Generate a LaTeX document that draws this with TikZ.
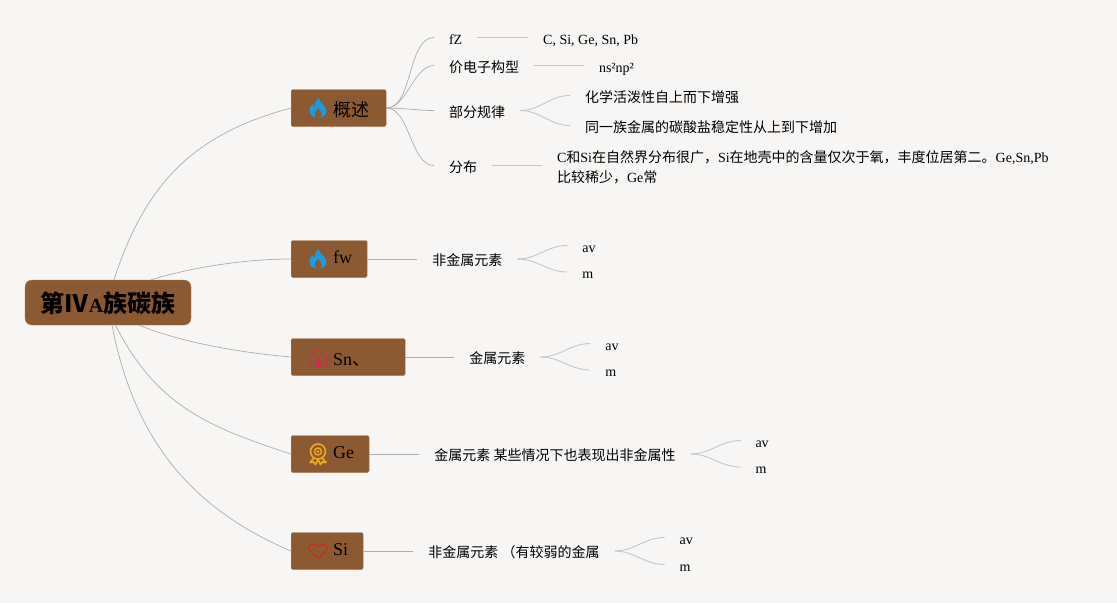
\documentclass[tikz,border=0pt]{standalone}
\usepackage{fontspec}
\setmainfont{Liberation Serif}
\newfontfamily\cjk{Noto Sans CJK SC}
\newcommand{\zh}[1]{{\cjk #1}}
\usepackage{xcolor}
\usetikzlibrary{positioning}
\definecolor{paper}{HTML}{F8F6F4}
\definecolor{bark}{HTML}{8B5A33}
\definecolor{barkline}{HTML}{A57B58}
\definecolor{flameblue}{HTML}{1E9BE0}
\definecolor{homered}{HTML}{C8304A}
\definecolor{medalgold}{HTML}{F0A81E}
\definecolor{heartred}{HTML}{C8301E}

\begin{document}
\begin{tikzpicture}[
  x=1pt, y=1pt,
  lift/.style={text height=#1, text depth=0pt},
  root/.style={draw=barkline, fill=bark, rounded corners=7pt, minimum width=166pt, minimum height=45pt,
               inner sep=0pt, lift=20pt, font=\fontsize{24}{28}\selectfont\bfseries},
  topic/.style={draw=barkline, fill=bark, rounded corners=1.5pt, minimum height=37pt, inner xsep=0pt,
                anchor=west, font=\fontsize{18}{22}\selectfont},
  leaf/.style={inner ysep=0pt, inner xsep=0pt, outer xsep=15pt, outer ysep=0pt, font=\fontsize{14}{20}\selectfont},
  even/.style={text height=15pt, text depth=2pt},
  limb/.style={draw=black!32, line width=0.7pt},
  twig/.style={draw=black!22, line width=0.9pt},
  flame/.pic={
    \fill[flameblue] (0.5,10) .. controls (1.5,5) and (8.5,2) .. (8.5,-3) .. controls (8.5,-7) and (5,-9.5) .. (0,-9.5)
      .. controls (-5,-9.5) and (-8.5,-7) .. (-8.5,-3) .. controls (-8.5,0) and (-7,2) .. (-5.5,4)
      .. controls (-5,2.5) and (-4,1.5) .. (-3,1.5) .. controls (-3.5,5) and (-2,8) .. (0.5,10) -- cycle;
    \fill[bark] (0,-9.6) .. controls (-3.5,-9.6) and (-4,-6) .. (-3,-4) .. controls (-2,-2.5) and (-0.5,-1.5) .. (0,0)
      .. controls (1,-1.5) and (3,-3) .. (3.5,-5) .. controls (4,-7.5) and (3,-9.6) .. (0,-9.6) -- cycle;
  },
  home/.pic={
    \draw[homered, line width=1.1pt, line join=round] (-6.5,-8.5) -- (-8.5,-8.5) -- (-8.5,1) -- (0,8.5) -- (8.5,1) -- (8.5,-8.5) -- (6.5,-8.5);
    \fill[homered] (-3,-8.5) -- (-3,-3) -- (0,0.5) -- (3,-3) -- (3,-8.5) -- cycle;
  },
  medal/.pic={
    \draw[medalgold, line width=1.6pt] (0,2.5) circle (7.5pt);
    \draw[medalgold, line width=1.4pt] (0,2.5) circle (3.5pt);
    \fill[medalgold] (0,2.5) circle (1.4pt);
    \draw[medalgold, line width=1.7pt, line join=round] (-4.5,-4.5) -- (-8,-8.5) -- (-4.5,-8) -- (-2.5,-10.5) -- (0,-5.5) -- (2.5,-10.5) -- (4.5,-8) -- (8,-8.5) -- (4.5,-4.5);
  },
  heart/.pic={
    \draw[heartred, line width=1.2pt, line join=round] (0,-7.5) -- (-8.5,1) .. controls (-10.5,4) and (-7.5,7) .. (-5,7)
      .. controls (-3,7) and (-1,5.5) .. (0,4) .. controls (1,5.5) and (3,7) .. (5,7) .. controls (7.5,7) and (10.5,4) .. (8.5,1) -- cycle;
  }
]
  \useasboundingbox[fill=paper] (0,0) rectangle (1117,-603);

  \node[root] (root) at (108,-302.5) {\zh{第Ⅳ}{\fontsize{20}{24}\selectfont A}\zh{族碳族}};

  \node[topic, lift=16pt] (gaishu) at (291,-108) {\hspace*{42.5pt}\zh{概述}\hspace*{16.5pt}};
  \node[topic, lift=8pt] (fw) at (291,-259) {\hspace*{42pt}fw\hspace*{15pt}};
  \node[topic, lift=16pt] (sn) at (291,-357) {\hspace*{42pt}Sn\zh{、}\hspace*{35pt}};
  \node[topic, lift=8pt] (ge) at (291,-454) {\hspace*{42pt}Ge\hspace*{15pt}};
  \node[topic, lift=8pt] (si) at (291,-551) {\hspace*{42pt}Si\hspace*{15pt}};

  \pic at (318,-108) {flame};
  \pic at (318,-259) {flame};
  \pic at (318,-358) {home};
  \pic at (318,-454) {medal};
  \pic at (318,-551) {heart};

  % overview branch
  \node[leaf, even, anchor=west] (fz) at (434,-37.5) {fZ};
  \node[leaf, even, right=51pt of fz] (elements) {C, Si, Ge, Sn, Pb};
  \node[leaf, even, anchor=west] (valence) at (434,-65.5) {\zh{价电子构型}};
  \node[leaf, even, right=50pt of valence] (config) {ns²np²};
  \node[leaf, even, anchor=west] (rules) at (434,-110.5) {\zh{部分规律}};
  \node[leaf, even, right=50pt of rules, yshift=15pt] (ruleup) {\zh{化学活泼性自上而下增强}};
  \node[leaf, even, right=50pt of rules, yshift=-15pt] (ruledown) {\zh{同一族金属的碳酸盐稳定性从上到下增加}};
  \node[leaf, even, anchor=west] (spread) at (434,-165.5) {\zh{分布}};
  \node[leaf, align=left, right=50pt of spread, yshift=-1.5pt] (spreadtext)
    {C\zh{和}Si\zh{在自然界分布很广，}Si\zh{在地壳中的含量仅次于氧，丰度位居第二。}Ge,Sn,Pb\\\zh{比较稀少，}Ge\zh{常}};

  % element branches
  \node[leaf, even, right=50pt of fw] (fwkind) {\zh{非金属元素}};
  \node[leaf, even, right=50pt of fwkind, yshift=13.5pt] (fwav) {av};
  \node[leaf, even, right=50pt of fwkind, yshift=-13pt] (fwm) {m};
  \node[leaf, even, right=49pt of sn] (snkind) {\zh{金属元素}};
  \node[leaf, even, right=50pt of snkind, yshift=13.5pt] (snav) {av};
  \node[leaf, even, right=50pt of snkind, yshift=-13pt] (snm) {m};
  \node[leaf, even, right=50pt of ge] (gekind) {\zh{金属元素 某些情况下也表现出非金属性}};
  \node[leaf, even, right=50pt of gekind, yshift=13.5pt] (geav) {av};
  \node[leaf, even, right=50pt of gekind, yshift=-13pt] (gem) {m};
  \node[leaf, even, right=50pt of si] (sikind) {\zh{非金属元素 （有较弱的金属}};
  \node[leaf, even, right=50pt of sikind, yshift=13.5pt] (siav) {av};
  \node[leaf, even, right=50pt of sikind, yshift=-13.5pt] (sim) {m};

  \draw[limb] ([xshift=6pt]root.north) to[out=72,in=195,looseness=1.05] (gaishu.west);
  \draw[limb] ([xshift=43pt]root.north) to[out=17,in=180,looseness=0.8] (fw.west);
  \draw[limb] ([xshift=31pt]root.south) to[out=-22,in=175,looseness=0.8] (sn.west);
  \draw[limb] ([xshift=7.5pt]root.south) to[out=-63,in=162,looseness=1.05] (ge.west);
  \draw[limb] ([xshift=4pt]root.south) to[out=-79,in=157,looseness=1] (si.west);

  \foreach \f in {fz, valence, rules, spread}
    \draw[limb] (gaishu.east) to[out=0,in=180,looseness=0.8] (\f.west);

  \draw[twig] (fz) -- (elements);
  \draw[twig] (valence) -- (config);
  \draw[twig] (spread.east) -- (spread.east -| spreadtext.west);
  \draw[twig] (rules.east) to[out=0,in=180] (ruleup.west);
  \draw[twig] (rules.east) to[out=0,in=180] (ruledown.west);

  \foreach \t/\k in {fw/fwkind, sn/snkind, ge/gekind, si/sikind}
    \draw[limb] (\t.east) -- (\k.west);
  \foreach \k/\a/\b in {fwkind/fwav/fwm, snkind/snav/snm, gekind/geav/gem, sikind/siav/sim} {
    \draw[twig] (\k.east) to[out=0,in=180] (\a.west);
    \draw[twig] (\k.east) to[out=0,in=180] (\b.west);
  }
\end{tikzpicture}
\end{document}
